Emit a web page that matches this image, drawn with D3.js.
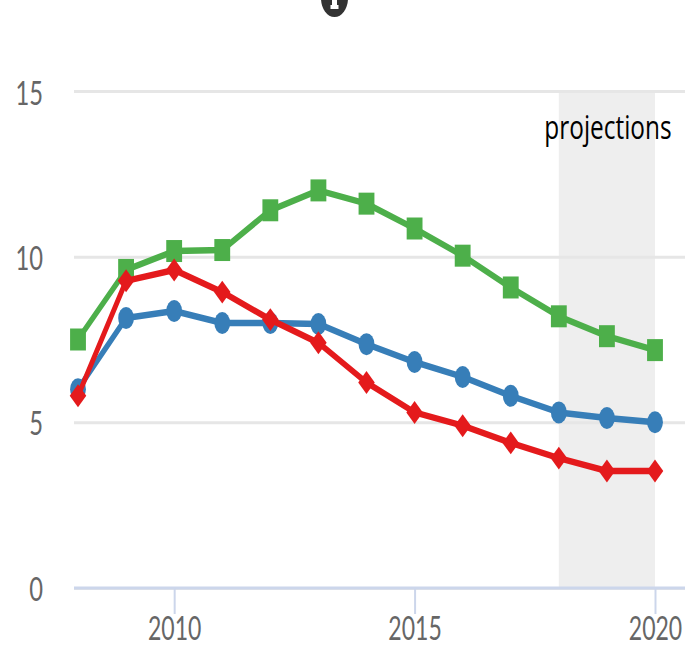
<!DOCTYPE html>
<html>
<head>
	<meta charset="utf-8">
	<script src="https://d3js.org/d3.v7.min.js"></script>
	<style>
		html, body { margin: 0; padding: 0; background: #fff; }
		svg { display: block; }
		text { font-family: Lato, sans-serif; }
	</style>
</head>
<body>
	<div id="chart"></div>

	<script type="text/javascript">
		// values
		var years = [2008, 2009, 2010, 2011, 2012, 2013, 2014, 2015, 2016, 2017, 2018, 2019, 2020];
		var greenValues = [7.5, 9.6, 10.17, 10.2, 11.4, 12.0, 11.6, 10.85, 10.03, 9.07, 8.2, 7.6, 7.18];
		var blueValues = [6.0, 8.15, 8.36, 8.0, 8.0, 7.97, 7.36, 6.82, 6.37, 5.8, 5.3, 5.13, 5.0];
		var redValues = [5.8, 9.27, 9.6, 8.93, 8.1, 7.4, 6.2, 5.3, 4.9, 4.38, 3.92, 3.53, 3.53];
		var yTicks = [0, 5, 10, 15];
		var xTicks = [2010, 2015, 2020];
		var projectionYears = [2018, 2020];

		var width = 687, height = 647;
		// the picture is squeezed sideways, so text, markers and lines get this x scale
		var squeeze = 0.72;

		var svg = d3.select("#chart").append("svg")
				.attr("width", width)
				.attr("height", height);

		var xScale = d3.scaleLinear().domain([2008, 2020]).range([78, 655]);
		var yScale = d3.scaleLinear().domain([0, 15]).range([588, 91]);

		// projections band
		svg.append("rect")
			.attr("x", xScale(projectionYears[0]))
			.attr("y", yScale(15))
			.attr("width", xScale(projectionYears[1]) - xScale(projectionYears[0]))
			.attr("height", yScale(0) - yScale(15))
			.attr("fill", "#eeeeee");

		// grid lines and y labels
		var yAxis = svg.append("g")
			.attr("transform", "translate(74,0)")
			.call(d3.axisLeft(yScale).tickValues(yTicks).tickSize(-611).tickFormat(d3.format("d")));
		yAxis.select(".domain").remove();
		yAxis.selectAll("line").attr("stroke", "#e6e6e6").attr("stroke-width", 3);
		yAxis.selectAll("text")
			.attr("x", null).attr("dy", null)
			.attr("transform", function(d){ return "translate(-31," + (12 + d * 0.13) + ") scale(" + squeeze + ",1)"; })
			.attr("fill", "#666666")
			.attr("font-size", 33)
			.attr("text-anchor", "end");

		// x axis
		var xAxis = svg.append("g")
			.attr("transform", "translate(0," + yScale(0) + ")")
			.call(d3.axisBottom(xScale).tickValues(xTicks).tickSize(26).tickFormat(d3.format("d")));
		xAxis.select(".domain")
			.attr("d", "M74,0H685")
			.attr("stroke", "#ccd6eb")
			.attr("stroke-width", 3);
		xAxis.selectAll("line").attr("stroke", "#ccd6eb").attr("stroke-width", 2);
		xAxis.selectAll("text")
			.attr("y", null).attr("dy", null)
			.attr("transform", "translate(0,52) scale(" + squeeze + ",1)")
			.attr("fill", "#666666")
			.attr("font-size", 32)
			.attr("text-anchor", "middle");

		// equal sided diamond, d3.symbolDiamond is too thin here
		var diamond = {
			draw: function(context, size){
				var r = Math.sqrt(size / 2);
				context.moveTo(0, -r);
				context.lineTo(r, 0);
				context.lineTo(0, r);
				context.lineTo(-r, 0);
				context.closePath();
			}
		};

		var series = [
			{ values: blueValues, color: "#377eb8", symbol: d3.symbolCircle, size: 380 },
			{ values: greenValues, color: "#4daf4a", symbol: d3.symbolSquare, size: 484 },
			{ values: redValues, color: "#e41a1c", symbol: diamond, size: 264 }
		];

		var line = d3.line()
			.x(function(d, i){ return xScale(years[i]) / squeeze; })
			.y(function(d){ return yScale(d); });

		var groups = svg.selectAll(".series").data(series).enter().append("g").attr("class", "series");

		groups.append("path")
			.attr("d", function(d){ return line(d.values); })
			.attr("transform", "scale(" + squeeze + ",1)")
			.attr("fill", "none")
			.attr("stroke", function(d){ return d.color; })
			.attr("stroke-width", 6.5)
			.attr("stroke-linejoin", "round");

		groups.each(function(s){
			d3.select(this).selectAll("path.marker").data(s.values).enter().append("path")
				.attr("class", "marker")
				.attr("d", d3.symbol().type(s.symbol).size(s.size))
				.attr("fill", s.color)
				.attr("transform", function(d, i){
					return "translate(" + xScale(years[i]) + "," + yScale(d) + ") scale(" + squeeze + ",1)";
				});
		});

		svg.append("text")
			.attr("transform", "translate(608,139) scale(0.74,1)")
			.attr("text-anchor", "middle")
			.style("font-family", "'Open Sans', sans-serif")
			.attr("font-size", 33)
			.attr("fill", "#000000")
			.text("projections");

		// info icon cut off at the top edge, the white bit is only a drawn shape
		svg.append("ellipse")
			.attr("cx", 334.5).attr("cy", -2)
			.attr("rx", 13.5).attr("ry", 19)
			.attr("fill", "#333333");
		svg.append("path")
			.attr("d", "M332,0H337V5H338.5V9H330.5V5H332Z")
			.attr("fill", "#ffffff");
	</script>
</body>
</html>
